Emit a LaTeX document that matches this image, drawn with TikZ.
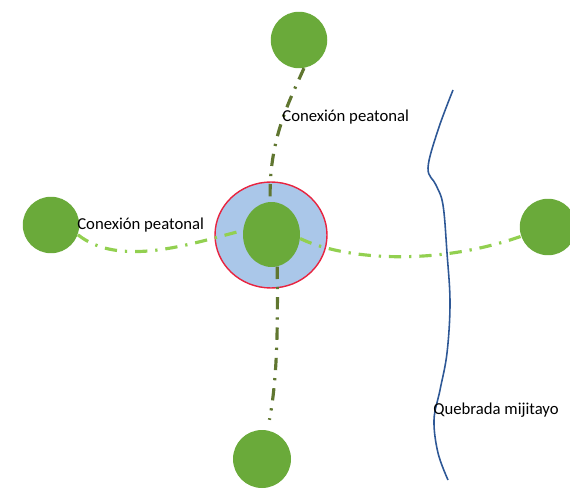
\documentclass[tikz,border=0pt]{standalone}
\usepackage{fontspec}
\setmainfont{Carlito}
\usepackage{tikz}
\usetikzlibrary{shapes.geometric,positioning,calc}
\definecolor{verdenodo}{RGB}{106,170,58}
\definecolor{verdeclaro}{RGB}{146,208,80}
\definecolor{verdeoliva}{RGB}{96,118,48}
\definecolor{azulzona}{RGB}{170,199,233}
\definecolor{rojoborde}{RGB}{232,36,64}
\definecolor{azulrio}{RGB}{46,88,150}

\begin{document}
\begin{tikzpicture}[x=0.02cm,y=-0.02cm,
 nodo/.style={circle,fill=verdenodo,minimum size=1.13cm,inner sep=0pt},
 senda/.style={line width=1.8pt,dash pattern=on 7pt off 4.5pt on 1.3pt off 4.5pt},
 etiqueta/.style={anchor=west,font=\fontsize{9.5}{11}\selectfont,inner sep=0pt}]
\useasboundingbox (0,0) rectangle (570,496);
\node[ellipse,fill=azulzona,draw=rojoborde,line width=0.8pt,minimum width=2.24cm,minimum height=2.12cm,inner sep=0pt] (zona) at (271,235){};
\node[ellipse,fill=verdenodo,minimum width=1.14cm,minimum height=1.3cm,inner sep=0pt] (centro) at (271.5,234.5){};
\node[nodo] (arriba) at (299,40){};
\node[nodo] (izquierda) at (51,225){};
\node[nodo] (derecha) at (548,227){};
\node[nodo,minimum size=1.16cm] (abajo) at (262,459){};
\draw[senda,verdeoliva] (arriba.-80) .. controls (290,100) and (268,140) .. (centro);
\draw[senda,verdeoliva,shorten >=6pt] (centro.-80) .. controls (278,330) and (277,380) .. (abajo);
\draw[senda,verdeclaro] (izquierda.-20) .. controls (120,268) and (190,244) .. (centro.172);
\draw[senda,verdeclaro] (centro.-8) .. controls (340,258) and (430,268) .. (derecha);
\draw[azulrio,line width=0.9pt] plot[smooth,tension=0.6] coordinates {(453,90) (438,130) (428,168) (436,185) (443,205) (447,253) (450,303) (447,353) (440,390) (434,420) (438,453) (448,480)};
\node[etiqueta] (textoarriba) at (282,117){Conexión peatonal};
\node[etiqueta] (textoizq) at (77,225){Conexión peatonal};
\node[etiqueta] (textorio) at (433,410){Quebrada mijitayo};
\end{tikzpicture}
\end{document}
